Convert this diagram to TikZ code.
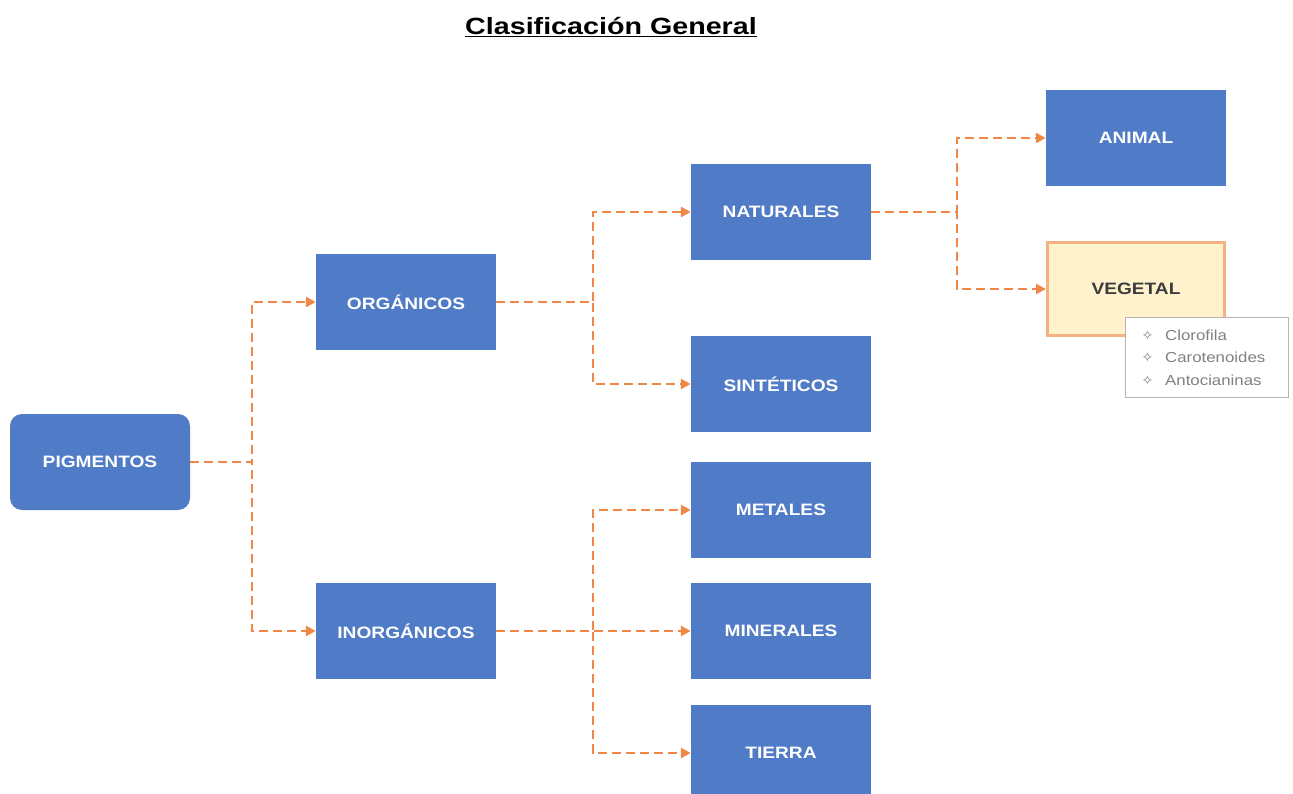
\documentclass[tikz,border=0pt]{standalone}
\usepackage{fontspec}
\setmainfont{Liberation Sans}
\newfontfamily\labelface[FakeStretch=1.16]{Liberation Sans}
\newfontfamily\titleface[FakeStretch=1.22]{Liberation Sans}
\newfontfamily\symface{DejaVu Sans}
\usetikzlibrary{arrows.meta}

\definecolor{boxblue}{RGB}{80,123,199}
\definecolor{linkorange}{RGB}{240,135,70}
\definecolor{vegfill}{RGB}{255,242,204}
\definecolor{vegedge}{RGB}{244,177,131}
\definecolor{vegtext}{RGB}{60,60,60}
\definecolor{notegray}{RGB}{128,128,128}
\definecolor{noteedge}{RGB}{180,180,180}

\tikzset{
  catbox/.style={rectangle, fill=boxblue, minimum width=180pt, minimum height=96pt,
    inner sep=0pt, text=white, font=\labelface\bfseries\fontsize{16.5}{20}\selectfont},
  rootbox/.style={catbox, rounded corners=12pt},
  highlightbox/.style={catbox, fill=vegfill, draw=vegedge, line width=3pt, text=vegtext,
    minimum width=177pt, minimum height=93pt},
  notebox/.style={rectangle, draw=noteedge, line width=1pt, fill=white, text=notegray,
    font=\labelface\fontsize{14.5}{22.5}\selectfont, align=left, text width=131pt,
    inner xsep=16pt, inner ysep=0pt, minimum height=80pt},
  link/.style={draw=linkorange, line width=2.7pt, dash pattern=on 9pt off 5pt,
    -{Triangle[length=10pt,width=10pt]}}
}
\newcommand{\notemark}{{\symface\fontsize{14}{14}\selectfont\char"2727}\hspace{12pt}}

\begin{document}
\begin{tikzpicture}[x=1pt,y=-1pt]
  \useasboundingbox (0,0) rectangle (1293,794);
  \clip (0,0) rectangle (1293,794);

  % heading
  \node[font=\titleface\bfseries\fontsize{23.5}{28}\selectfont] (title) at (611,27)
    {\underline{Clasificación General}};

  % category boxes
  \node[rootbox] (pig) at (100,462) {PIGMENTOS};
  \node[catbox] (org) at (406,302) {ORGÁNICOS};
  \node[catbox] (inorg) at (406,631) {INORGÁNICOS};
  \node[catbox] (nat) at (781,212) {NATURALES};
  \node[catbox] (sint) at (781,384) {SINTÉTICOS};
  \node[catbox] (met) at (781,510) {METALES};
  \node[catbox] (min) at (781,631) {MINERALES};
  \node[catbox] (tie) at (781,753) {TIERRA};
  \node[catbox] (ani) at (1136,138) {ANIMAL};
  \node[highlightbox] (veg) at (1136,289) {VEGETAL};

  % note attached to VEGETAL
  \node[notebox, anchor=north west] (note) at (1125,317)
    {\notemark Clorofila\\ \notemark Carotenoides\\ \notemark Antocianinas};

  % branching points
  \coordinate (j1) at (252,462);
  \coordinate (j2) at (593,302);
  \coordinate (j3) at (593,631);
  \coordinate (j4) at (957,212);

  % connectors
  \draw[link] (pig.east) -- (j1) |- (org.west);
  \draw[link] (pig.east) -- (j1) |- (inorg.west);
  \draw[link] (org.east) -- (j2) |- (nat.west);
  \draw[link] (org.east) -- (j2) |- (sint.west);
  \draw[link] (inorg.east) -- (j3) |- (met.west);
  \draw[link] (inorg.east) -- (j3) -- (min.west);
  \draw[link] (inorg.east) -- (j3) |- (tie.west);
  \draw[link] (nat.east) -- (j4) |- (ani.west);
  \draw[link] (nat.east) -- (j4) |- (veg.west);
\end{tikzpicture}
\end{document}
